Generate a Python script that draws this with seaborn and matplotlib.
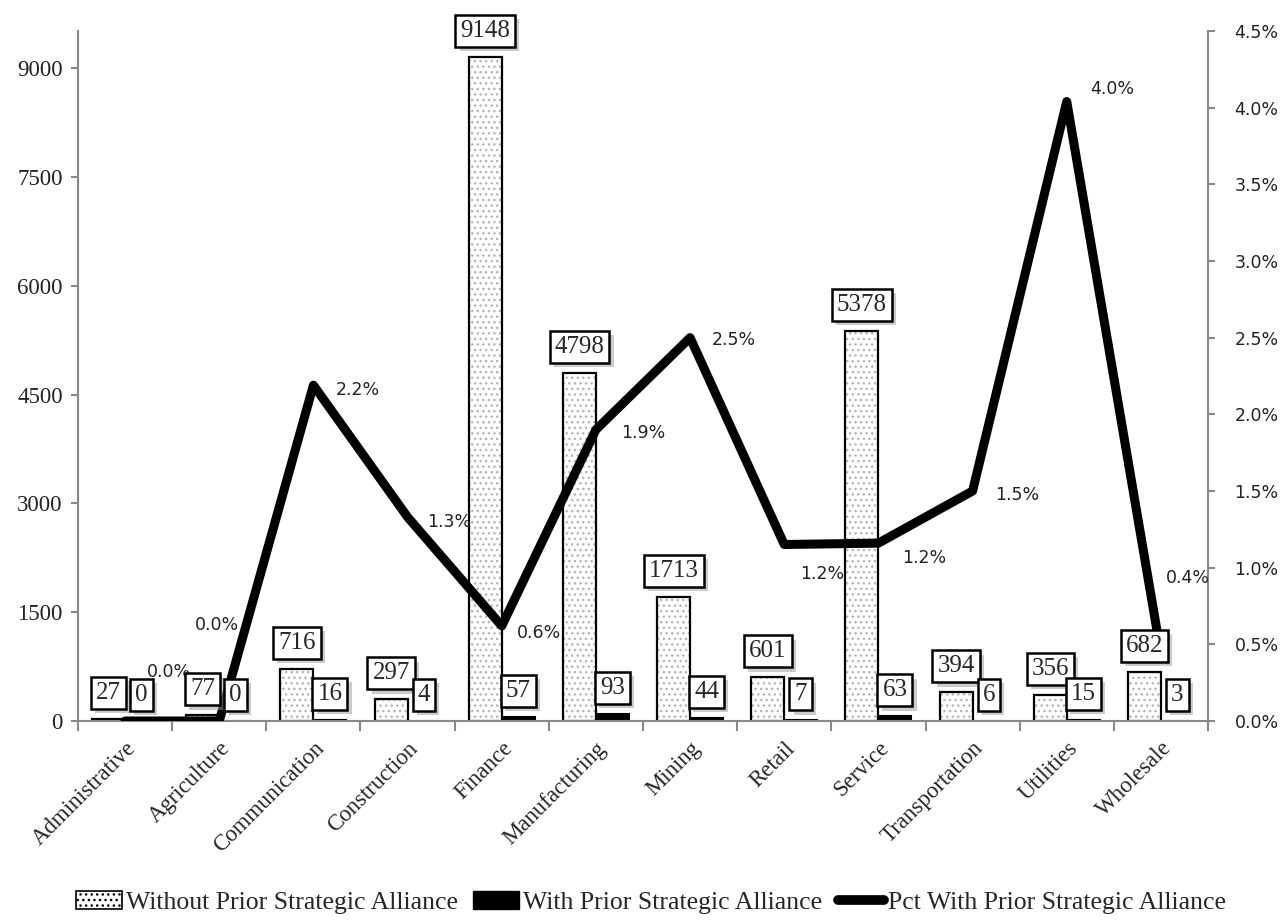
import numpy as np
import pandas as pd
import matplotlib
matplotlib.use('Agg')
import matplotlib.pyplot as plt
import matplotlib.patheffects as pe
from matplotlib.patches import Patch, Rectangle
from matplotlib.lines import Line2D
import seaborn as sns

industries = ['Administrative', 'Agriculture', 'Communication', 'Construction',
              'Finance', 'Manufacturing', 'Mining', 'Retail', 'Service',
              'Transportation', 'Utilities', 'Wholesale']
without_alliance = [27, 77, 716, 297, 9148, 4798, 1713, 601, 5378, 394, 356, 682]
with_alliance = [0, 0, 16, 4, 57, 93, 44, 7, 63, 6, 15, 3]
pct_with = [0.0, 0.0, 2.19, 1.33, 0.62, 1.90, 2.50, 1.151, 1.16, 1.50, 4.04, 0.44]
left_ticks = [0, 1500, 3000, 4500, 6000, 7500, 9000]
right_ticks = [0.0, 0.5, 1.0, 1.5, 2.0, 2.5, 3.0, 3.5, 4.0, 4.5]

s_without = 'Without Prior Strategic Alliance'
s_with = 'With Prior Strategic Alliance'
s_pct = 'Pct With Prior Strategic Alliance'

# where excel put the % labels, offset in pixels from each point
pct_offsets = [(22, 49), (-24, 96), (22, -5), (20, -5), (15, -7), (25, -3),
               (22, -2), (16, -29), (24, -15), (23, -4), (23, 13), (5, 76)]

sns.set_theme(style='white')
plt.rcParams['font.family'] = ['Liberation Serif', 'DejaVu Sans']

df = pd.DataFrame({
    'industry': industries * 2,
    'count': without_alliance + with_alliance,
    'series': [s_without] * len(industries) + [s_with] * len(industries),
})

fig = plt.figure(figsize=(12.86, 9.22), dpi=100)
ax = fig.add_axes([78 / 1286, 1 - 721 / 922, 1130 / 1286, 690 / 922])

sns.barplot(data=df, x='industry', y='count', hue='series',
            palette=['white', 'black'], saturation=1, width=0.7,
            edgecolor='black', linewidth=1.5, legend=False, ax=ax)

# dotted fill in grey, outline kept black
for p in ax.containers[0]:
    p.set_hatch('...')
    p.set_edgecolor('#b4b4b4')
    p.set_linewidth(0)
    ax.add_patch(Rectangle(p.get_xy(), p.get_width(), p.get_height(),
                           fill=False, edgecolor='black', linewidth=1.6))

ax.set_ylim(0, 9510)
ax.set_xlim(-0.5, len(industries) - 0.5)
ax.set_yticks(left_ticks)
ax.set_yticklabels([str(t) for t in left_ticks], fontsize=16.5, color='#222222')
ax.set_xticks(np.arange(len(industries)))
ax.set_xticklabels(industries, rotation=45, ha='right', rotation_mode='anchor',
                   fontsize=16.5)
ax.set_xticks(np.arange(-0.5, len(industries), 1), minor=True)
ax.tick_params(axis='x', which='major', length=0, pad=12)
ax.tick_params(axis='x', which='minor', length=7, width=1.5, color='#888888',
               direction='out', bottom=True)
ax.tick_params(axis='y', length=5, width=1.5, color='#888888', direction='out',
               left=True, pad=6)
ax.set_xlabel('')
ax.set_ylabel('')
for side in ['top', 'right']:
    ax.spines[side].set_visible(False)
for side in ['left', 'bottom']:
    ax.spines[side].set_color('#888888')
    ax.spines[side].set_linewidth(1.5)

ax2 = ax.twinx()
sns.lineplot(x=np.arange(len(industries)), y=pct_with, ax=ax2, color='black',
             linewidth=6.5)
ax2.set_ylim(0, 4.5)
ax2.set_yticks(right_ticks)
ax2.set_yticklabels([f'{t:.1f}%' for t in right_ticks], fontsize=12.5,
                    family='DejaVu Sans', color='#222222')
ax2.tick_params(axis='y', length=5, width=1.5, color='#888888', direction='out',
                right=True, pad=14)
ax2.set_ylabel('')
for side in ['top', 'left', 'bottom']:
    ax2.spines[side].set_visible(False)
ax2.spines['right'].set_color('#888888')
ax2.spines['right'].set_linewidth(1.5)

for i, (v, (dx, dy)) in enumerate(zip(pct_with, pct_offsets)):
    ax2.annotate(f'{v:.1f}%', xy=(i, v), xytext=(dx, dy),
                 textcoords='offset pixels', ha='left', va='center',
                 fontsize=12.5, family='DejaVu Sans', color='#222222', zorder=5)

# boxed count labels above every bar, drawn over the line
shadow = [pe.withSimplePatchShadow(offset=(3, -3), shadow_rgbFace='#999999',
                                   alpha=0.5)]
for cont, vals in zip(ax.containers[:2], [without_alliance, with_alliance]):
    for p, v in zip(cont, vals):
        t = ax2.annotate(str(v), xy=(p.get_x() + p.get_width() / 2, p.get_height()),
                         xycoords=ax.transData, xytext=(0, 15),
                         textcoords='offset pixels', ha='center', va='bottom',
                         fontsize=18, zorder=10,
                         bbox=dict(boxstyle='square,pad=0.2', facecolor='white',
                                   edgecolor='black', linewidth=1.8))
        t.get_bbox_patch().set_path_effects(shadow)

handles = [Patch(facecolor='white', edgecolor='black', hatch='...', linewidth=1.2),
           Patch(facecolor='black', edgecolor='black'),
           Line2D([], [], color='black', linewidth=7, solid_capstyle='round')]
fig.legend(handles, [s_without, s_with, s_pct], loc='lower center',
           bbox_to_anchor=(0.506, -0.016), ncol=3, frameon=False, fontsize=18.5,
           handlelength=1.8, handletextpad=0.15, columnspacing=0.6)

fig.savefig('out.png', dpi=100)
